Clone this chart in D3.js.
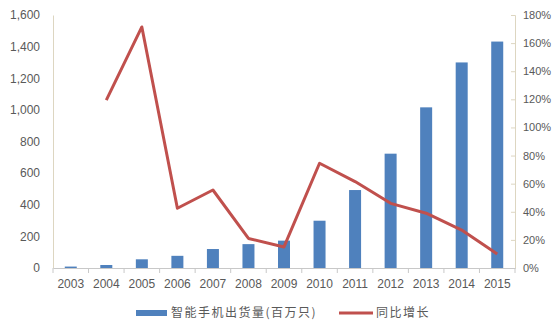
<!DOCTYPE html>
<meta charset="utf-8">
<script src="https://d3js.org/d3.v7.min.js"></script>
<style>
  body { margin: 0; background: #fff; }
  text { font-family: "Liberation Sans", Arial, sans-serif; fill: #595959; }
  .legend text { font-family: "Noto Sans CJK SC", sans-serif; }
</style>
<svg width="555" height="327"></svg>
<script>
// data
var years = ["2003", "2004", "2005", "2006", "2007", "2008", "2009", "2010", "2011", "2012", "2013", "2014", "2015"];
var shipments = [9, 19, 55, 77, 120, 151, 173, 299, 493, 723, 1016, 1300, 1432];
var growth = [null, 1.195, 1.715, 0.425, 0.555, 0.21, 0.15, 0.745, 0.615, 0.46, 0.39, 0.27, 0.10];
var leftTicks = [0, 200, 400, 600, 800, 1000, 1200, 1400, 1600];
var rightTicks = [0, 0.2, 0.4, 0.6, 0.8, 1.0, 1.2, 1.4, 1.6, 1.8];
var seriesNames = ["智能手机出货量(百万只)", "同比增长"];

var svg = d3.select("svg"),
    plotLeft = 53, plotRight = 515, plotTop = 15, plotBottom = 268;

var x = d3.scaleBand().domain(years).range([plotLeft, plotRight]).padding(0);
var y = d3.scaleLinear().domain([0, 1600]).range([plotBottom, plotTop]);
var y2 = d3.scaleLinear().domain([0, 1.8]).range([plotBottom, plotTop]);

var barColor = "#4f81bd", lineColor = "#c0504d";
var barW = 12;

// bars
svg.append("g")
  .selectAll("rect")
  .data(years)
  .enter().append("rect")
  .attr("x", function (d) { return x(d) + x.bandwidth() / 2 - barW / 2; })
  .attr("y", function (d, i) { return y(shipments[i]); })
  .attr("width", barW)
  .attr("height", function (d, i) { return plotBottom - y(shipments[i]); })
  .attr("fill", barColor);

// left axis
var yAxis = svg.append("g")
  .attr("transform", "translate(" + plotLeft + ",0)")
  .call(d3.axisLeft(y).tickValues(leftTicks).tickSize(0).tickPadding(13).tickFormat(d3.format(",")));
yAxis.select(".domain").attr("stroke", "#ddd6c1");
yAxis.selectAll("text").attr("font-size", 12).attr("fill", "#595959").attr("font-family", "Liberation Sans, Arial, sans-serif");

// right axis
var y2Axis = svg.append("g")
  .attr("transform", "translate(" + plotRight + ",0)")
  .call(d3.axisRight(y2).tickValues(rightTicks).tickSize(-4).tickPadding(8).tickFormat(d3.format(".0%")));
y2Axis.select(".domain").attr("stroke", "#ddd6c1");
y2Axis.selectAll("line").attr("stroke", "#ddd6c1");
y2Axis.selectAll("text").attr("font-size", 11).attr("fill", "#595959").attr("font-family", "Liberation Sans, Arial, sans-serif");

// bottom axis
var xAxis = svg.append("g")
  .attr("transform", "translate(0," + plotBottom + ")")
  .call(d3.axisBottom(x).tickSize(0).tickPadding(11));
xAxis.select(".domain").attr("stroke", "#c8c8c8");
xAxis.selectAll("text").attr("font-size", 12).attr("fill", "#595959").attr("font-family", "Liberation Sans, Arial, sans-serif");
xAxis.selectAll(".sep")
  .data(years.concat(["end"]))
  .enter().append("line")
  .attr("class", "sep")
  .attr("x1", function (d, i) { return plotLeft + i * x.step(); })
  .attr("x2", function (d, i) { return plotLeft + i * x.step(); })
  .attr("y1", 0).attr("y2", 5)
  .attr("stroke", "#c8c8c8");

// growth line
var pts = years.map(function (d, i) { return [x(d) + x.bandwidth() / 2, growth[i]]; })
  .filter(function (p) { return p[1] !== null; });
svg.append("path")
  .datum(pts)
  .attr("fill", "none")
  .attr("stroke", lineColor)
  .attr("stroke-width", 3)
  .attr("stroke-linejoin", "round")
  .attr("d", d3.line().x(function (p) { return p[0]; }).y(function (p) { return y2(p[1]); }));

// legend
var legend = svg.append("g").attr("class", "legend");
legend.append("rect")
  .attr("x", 136).attr("y", 310).attr("width", 31).attr("height", 6)
  .attr("fill", barColor);
legend.append("text")
  .attr("x", 171).attr("y", 313).attr("dy", "0.35em")
  .attr("font-size", 12).attr("letter-spacing", 1.5)
  .text(seriesNames[0]);
legend.append("line")
  .attr("x1", 339).attr("x2", 373).attr("y1", 313).attr("y2", 313)
  .attr("stroke", lineColor).attr("stroke-width", 3);
legend.append("text")
  .attr("x", 376).attr("y", 313).attr("dy", "0.35em")
  .attr("font-size", 12).attr("letter-spacing", 1.5)
  .text(seriesNames[1]);
</script>
